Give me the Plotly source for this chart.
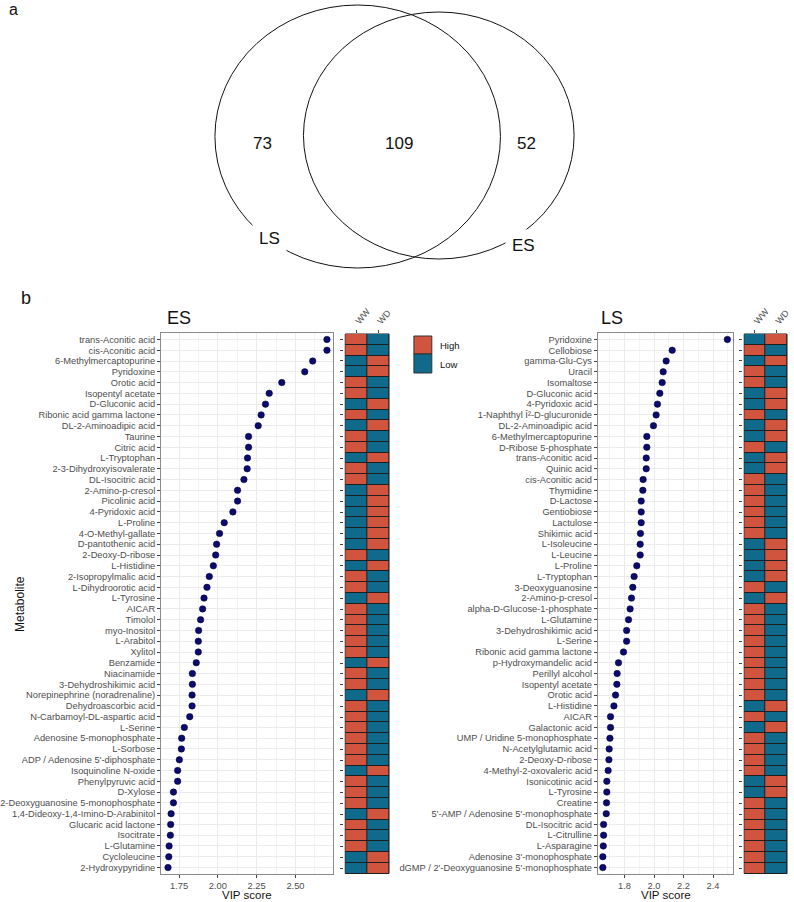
import plotly.graph_objects as go

W, H = 794, 902

# ---------------- data ----------------
venn_labels = ["LS", "ES"]
venn_counts = [73, 109, 52]  # LS only, shared, ES only

es_metabolites = [
    "trans-Aconitic acid", "cis-Aconitic acid", "6-Methylmercaptopurine", "Pyridoxine",
    "Orotic acid", "Isopentyl acetate", "D-Gluconic acid", "Ribonic acid gamma lactone",
    "DL-2-Aminoadipic acid", "Taurine", "Citric acid", "L-Tryptophan",
    "2-3-Dihydroxyisovalerate", "DL-Isocitric acid", "2-Amino-p-cresol", "Picolinic acid",
    "4-Pyridoxic acid", "L-Proline", "4-O-Methyl-gallate", "D-pantothenic acid",
    "2-Deoxy-D-ribose", "L-Histidine", "2-Isopropylmalic acid", "L-Dihydroorotic acid",
    "L-Tyrosine", "AICAR", "Timolol", "myo-Inositol", "L-Arabitol", "Xylitol",
    "Benzamide", "Niacinamide", "3-Dehydroshikimic acid", "Norepinephrine (noradrenaline)",
    "Dehydroascorbic acid", "N-Carbamoyl-DL-aspartic acid", "L-Serine",
    "Adenosine 5-monophosphate", "L-Sorbose", "ADP / Adenosine 5'-diphosphate",
    "Isoquinoline N-oxide", "Phenylpyruvic acid", "D-Xylose",
    "2-Deoxyguanosine 5-monophosphate", "1,4-Dideoxy-1,4-Imino-D-Arabinitol",
    "Glucaric acid lactone", "Isocitrate", "L-Glutamine", "Cycloleucine", "2-Hydroxypyridine",
]
es_vip = [
    2.703, 2.703, 2.611, 2.560, 2.412, 2.331, 2.307, 2.279, 2.260, 2.198,
    2.198, 2.191, 2.189, 2.168, 2.127, 2.127, 2.097, 2.041, 2.011, 1.992,
    1.986, 1.971, 1.945, 1.930, 1.911, 1.902, 1.889, 1.876, 1.874, 1.874,
    1.861, 1.836, 1.836, 1.834, 1.834, 1.819, 1.784, 1.767, 1.765, 1.752,
    1.741, 1.741, 1.714, 1.714, 1.699, 1.696, 1.694, 1.686, 1.684, 1.679,
]
# WW level: 1 = High (WD then Low), 0 = Low (WD High)
es_ww_high = [
    1, 1, 0, 0, 1, 1, 0, 1, 0, 1,
    1, 0, 1, 1, 0, 0, 0, 0, 0, 0,
    1, 0, 1, 1, 0, 1, 1, 1, 1, 1,
    0, 1, 1, 0, 1, 1, 1, 1, 1, 1,
    0, 1, 1, 1, 0, 1, 1, 1, 0, 0,
]

ls_metabolites = [
    "Pyridoxine", "Cellobiose", "gamma-Glu-Cys", "Uracil", "Isomaltose",
    "D-Gluconic acid", "4-Pyridoxic acid", "1-Naphthyl Î²-D-glucuronide",
    "DL-2-Aminoadipic acid", "6-Methylmercaptopurine", "D-Ribose 5-phosphate",
    "trans-Aconitic acid", "Quinic acid", "cis-Aconitic acid", "Thymidine",
    "D-Lactose", "Gentiobiose", "Lactulose", "Shikimic acid", "L-Isoleucine",
    "L-Leucine", "L-Proline", "L-Tryptophan", "3-Deoxyguanosine", "2-Amino-p-cresol",
    "alpha-D-Glucose-1-phosphate", "L-Glutamine", "3-Dehydroshikimic acid", "L-Serine",
    "Ribonic acid gamma lactone", "p-Hydroxymandelic acid", "Perillyl alcohol",
    "Isopentyl acetate", "Orotic acid", "L-Histidine", "AICAR", "Galactonic acid",
    "UMP / Uridine 5-monophosphate", "N-Acetylglutamic acid", "2-Deoxy-D-ribose",
    "4-Methyl-2-oxovaleric acid", "Isonicotinic acid", "L-Tyrosine", "Creatine",
    "5'-AMP / Adenosine 5'-monophosphate", "DL-Isocitric acid", "L-Citrulline",
    "L-Asparagine", "Adenosine 3'-monophosphate",
    "dGMP / 2'-Deoxyguanosine 5'-monophosphate",
]
ls_vip = [
    2.497, 2.123, 2.082, 2.062, 2.055, 2.039, 2.023, 2.014, 1.996, 1.951,
    1.951, 1.947, 1.947, 1.926, 1.924, 1.913, 1.913, 1.913, 1.908, 1.906,
    1.906, 1.883, 1.865, 1.856, 1.847, 1.838, 1.827, 1.814, 1.814, 1.793,
    1.759, 1.750, 1.748, 1.739, 1.728, 1.705, 1.705, 1.701, 1.696, 1.694,
    1.689, 1.680, 1.680, 1.678, 1.676, 1.658, 1.658, 1.656, 1.653, 1.653,
]
ls_ww_high = [
    0, 1, 0, 1, 1, 0, 0, 1, 0, 0,
    1, 0, 0, 1, 1, 1, 1, 1, 1, 0,
    0, 0, 0, 1, 0, 1, 1, 1, 1, 1,
    1, 1, 1, 1, 0, 1, 0, 1, 1, 1,
    1, 0, 0, 1, 1, 1, 1, 1, 1, 1,
]
conditions = ["WW", "WD"]
levels = ["High", "Low"]

# ---------------- styles ----------------
RED = "#D0543E"
BLUE = "#0F6A8B"
DOT = "#0B0B6E"
FONT = "Liberation Sans, Arial, sans-serif"
TICKC = "#4D4D4D"
GRID = "#EBEBEB"
BORDER = "#8A8A8A"


def px(x):
    return x / W


def py(y):
    return 1 - y / H


fig = go.Figure()

# dot plots
fig.add_trace(go.Scatter(
    x=es_vip, y=es_metabolites, mode="markers", xaxis="x", yaxis="y",
    marker=dict(color=DOT, size=6.5, line=dict(color="#000033", width=0.5)),
    showlegend=False, cliponaxis=False))
fig.add_trace(go.Scatter(
    x=ls_vip, y=ls_metabolites, mode="markers", xaxis="x3", yaxis="y3",
    marker=dict(color=DOT, size=6.5, line=dict(color="#000033", width=0.5)),
    showlegend=False, cliponaxis=False))

cscale = [[0, BLUE], [0.5, BLUE], [0.5, RED], [1, RED]]
fig.add_trace(go.Heatmap(
    z=[[h, 1 - h] for h in es_ww_high], x=conditions, y=es_metabolites,
    xaxis="x2", yaxis="y2", colorscale=cscale, zmin=0, zmax=1,
    showscale=False, xgap=1, ygap=1))
fig.add_trace(go.Heatmap(
    z=[[h, 1 - h] for h in ls_ww_high], x=conditions, y=ls_metabolites,
    xaxis="x4", yaxis="y4", colorscale=cscale, zmin=0, zmax=1,
    showscale=False, xgap=1, ygap=1))

ydom = [py(874), py(333)]
hdom = [py(873.5), py(334)]


def dot_x(domain, rng, dtick, minor):
    return dict(domain=domain, range=rng, dtick=dtick, tick0=0, tickformat=".2f" if dtick == 0.25 else ".1f",
                showgrid=True, gridcolor=GRID, gridwidth=1,
                minor=dict(showgrid=True, gridcolor="#F3F3F3", gridwidth=0.6, dtick=minor, tick0=0),
                showline=True, mirror=True, linecolor=BORDER, linewidth=1.2,
                ticks="outside", ticklen=2.5, tickcolor="#444", tickwidth=1,
                ticklabelstandoff=0,
                tickfont=dict(size=9.3, color=TICKC, family=FONT), zeroline=False)


def dot_y(names, anchor):
    return dict(domain=ydom, anchor=anchor, type="category", categoryorder="array",
                categoryarray=names, tickmode="array", tickvals=names, ticktext=names,
                range=[len(names) - 0.4, -0.6],
                showgrid=True, gridcolor=GRID, gridwidth=1,
                showline=True, mirror=True, linecolor=BORDER, linewidth=1.2,
                ticks="outside", ticklen=3, tickcolor="#444", tickwidth=1,
                tickfont=dict(size=9.3, color=TICKC, family=FONT), zeroline=False)


def heat_x(domain, anchor):
    return dict(domain=domain, anchor=anchor, side="top", type="category",
                range=[-0.5, 1.5], tickangle=-50, ticks="outside", ticklen=3,
                tickcolor="#444", showgrid=False, zeroline=False, showline=False,
                tickfont=dict(size=9, color=TICKC, family=FONT))


def heat_y(names, pos):
    return dict(domain=hdom, anchor="free", position=pos, type="category",
                categoryorder="array", categoryarray=names,
                tickmode="array", tickvals=names, ticktext=[""] * len(names),
                range=[len(names) - 0.5, -0.5], showticklabels=False,
                ticks="outside", ticklen=3, tickcolor="#444", showgrid=False,
                zeroline=False, showline=False)


fig.update_layout(
    width=W, height=H, margin=dict(l=0, r=0, t=0, b=0),
    paper_bgcolor="white", plot_bgcolor="white",
    font=dict(family=FONT, color="#222"),
    xaxis=dot_x([px(162), px(335)], [1.635, 2.744], 0.25, 0.125) | dict(anchor="y"),
    yaxis=dot_y(es_metabolites, "x"),
    xaxis2=heat_x([px(347), px(391)], "y2"),
    yaxis2=heat_y(es_metabolites, px(345)),
    xaxis3=dot_x([px(601), px(737)], [1.62, 2.537], 0.2, 0.1) | dict(anchor="y3"),
    yaxis3=dot_y(ls_metabolites, "x3"),
    xaxis4=heat_x([px(748), px(791)], "y4"),
    yaxis4=heat_y(ls_metabolites, px(746)),
)

shapes = []
# dark borders under heatmap cells
for xr, yr in [("x2", "y2"), ("x4", "y4")]:
    shapes.append(dict(type="rect", xref=f"{xr} domain", yref=f"{yr} domain",
                       x0=0, x1=1, y0=0, y1=1, fillcolor="#1E1E1E",
                       line=dict(color="#1E1E1E", width=1), layer="below"))

# Venn ellipses (pixel bounding boxes: left, right, top, bottom)
venn_boxes = {"LS": (216, 503, 5, 268), "ES": (305, 577, 12, 259)}
for lab in venn_labels:
    x0, x1, y0, y1 = venn_boxes[lab]
    shapes.append(dict(type="circle", xref="paper", yref="paper",
                       x0=px(x0), x1=px(x1), y0=py(y1), y1=py(y0),
                       line=dict(color="#111", width=1)))

# legend boxes
shapes.append(dict(type="rect", xref="paper", yref="paper", x0=px(416), x1=px(434),
                   y0=py(354), y1=py(336), fillcolor=RED, line=dict(color="#333", width=1)))
shapes.append(dict(type="rect", xref="paper", yref="paper", x0=px(416), x1=px(434),
                   y0=py(373), y1=py(354), fillcolor=BLUE, line=dict(color="#333", width=1)))
fig.update_layout(shapes=shapes)

ann = []


def add_text(text, x, y, size, color="#111", xanchor="center", yanchor="middle", angle=0, **kw):
    ann.append(dict(text=text, x=px(x), y=py(y), xref="paper", yref="paper",
                    showarrow=False, xanchor=xanchor, yanchor=yanchor, textangle=angle,
                    font=dict(size=size, color=color, family=FONT), **kw))


VENN_FONT = "Liberation Sans Narrow, Liberation Sans, Arial, sans-serif"
for cnt, xx in zip(venn_counts, [252, 401, 541]):
    ann.append(dict(text=str(cnt), x=px(xx), y=py(132), xref="paper", yref="paper",
                    showarrow=False, font=dict(size=17, color="#111", family=VENN_FONT)))
for lab, (xx, yy) in zip(venn_labels, [(253, 222), (526, 229)]):
    ann.append(dict(text=lab, x=px(xx), y=py(yy), xref="paper", yref="paper",
                    showarrow=False, bgcolor="white", borderpad=6,
                    font=dict(size=17, color="#111", family=VENN_FONT)))

add_text("a", 14, 9, 16)
add_text("b", 26, 298, 18)
add_text("ES", 166, 318, 18, xanchor="left")
add_text("LS", 602, 318, 18, xanchor="left")
add_text("Metabolite", 20, 604, 12, angle=-90)
add_text("VIP score", 248, 902, 11.5, yanchor="bottom", borderpad=0)
add_text("VIP score", 669, 902, 11.5, yanchor="bottom", borderpad=0)
add_text(levels[0], 440, 345, 9.5, xanchor="left")
add_text(levels[1], 440, 364, 9.5, xanchor="left")
fig.update_layout(annotations=ann)

fig.write_html("out.html")
